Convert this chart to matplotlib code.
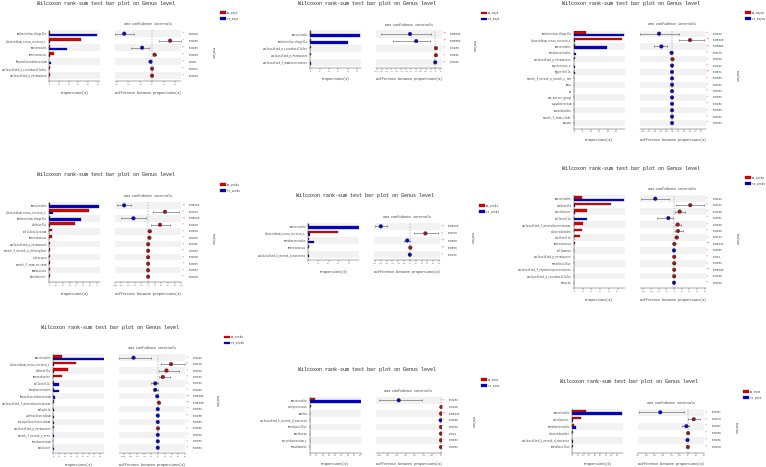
import matplotlib.pyplot as plt
import numpy as np
from matplotlib.transforms import blended_transform_factory

plt.rcParams['font.family'] = ['Liberation Mono', 'DejaVu Sans Mono']

W, H = 766, 467
RED, BLUE = '#e00000', '#0000d0'
DOT_RED, DOT_BLUE = '#a01515', '#0a0ab8'

# ---- data: one block per panel ----
group1 = 'Day3'
labels1 = ['Escherichia-Shigella', 'Clostridium_sensu_stricto_1', 'Bacteroides', 'Enterococcus',
           'Phascolarctobacterium', 'unclassified_o_Lactobacillales', 'unclassified_p_Firmicutes']
ck1 = [0.5, 33.0, 0.3, 5.0, 0.2, 0.4, 0.4]
yh1 = [49.5, 0.8, 18.3, 0.4, 1.8, 0.05, 0.05]
diff1 = [-47.0, 31.0, -16.6, 4.6, -2.3, 0.3, 0.3]
lo1 = [-62.0, 12.6, -35.0, 2.0, -3.4, 0.1, 0.1]
hi1 = [-30.0, 50.0, -5.0, 7.0, -1.2, 0.5, 0.5]
p1 = [0.0286, 0.0286, 0.0286, 0.0286, 0.028, 0.0221, 0.0186]

group2 = 'Day8'
labels2 = ['Bacteroides', 'Escherichia-Shigella', 'unclassified_o_Lactobacillales',
           'unclassified_p_Firmicutes', 'unclassified_f_Ruminococcaceae']
ck2 = [0.3, 0.3, 0.5, 0.5, 0.0]
yh2 = [26.5, 20.2, 0.0, 0.0, 0.2]
diff2 = [-26.0, -19.7, 0.5, 0.5, -0.2]
lo2 = [-55.7, -43.3, 0.2, 0.2, -0.4]
hi2 = [-4.7, -6.0, 0.8, 0.8, -0.05]
p2 = [0.00843, 0.00583, 0.0206, 0.0102, 0.0402]

group3 = 'Day15'
labels3 = ['Escherichia-Shigella', 'Clostridium_sensu_stricto_1', 'Bacteroides', 'Parabacteroides',
           'unclassified_p_Firmicutes', 'Coprococcus_2', 'Eggerthella', 'norank_f_norank_o_norank_c_TM7',
           'RB41', 'B1', 'NS9_marine_group', 'Aquabacterium', 'Nocardioides', 'norank_f_JG30_clade', 'SM1A02']
ck3 = [7.2, 28.3, 0.3, 0.1, 0.6, 0.2, 0.1, 0.05, 0.05, 0.05, 0.05, 0.05, 0.05, 0.05, 0.05]
yh3 = [29.7, 0.5, 19.8, 1.0, 0.1, 0.3, 0.4, 0.2, 0.2, 0.2, 0.2, 0.2, 0.2, 0.2, 0.2]
diff3 = [-22.5, 30.6, -18.5, -1.0, 0.5, -0.2, -0.3, -0.2, -0.2, -0.2, -0.2, -0.2, -0.2, -0.2, -0.2]
lo3 = [-55.0, 11.0, -31.0, -1.6, 0.2, -0.4, -0.6, -0.4, -0.4, -0.4, -0.4, -0.4, -0.4, -0.4, -0.4]
hi3 = [11.0, 53.8, -8.7, -0.4, 0.8, -0.05, -0.1, -0.05, -0.05, -0.05, -0.05, -0.05, -0.05, -0.05, -0.05]
p3 = [0.0286, 0.00496, 0.00403, 0.0276, 0.0286, 0.0412, 0.0071, 0.0303, 0.0402, 0.0303,
      0.0303, 0.0402, 0.0303, 0.0402, 0.0303]

group4 = 'Week2'
labels4 = ['Bacteroides', 'Clostridium_sensu_stricto_1', 'Escherichia-Shigella', 'Klebsiella',
           'Cellulosilyticum', 'Enterococcus', 'unclassified_p_Firmicutes', 'norank_f_norank_o_Chloroplast',
           'Alistipes', 'norank_f_JG30-KF-CM45', 'Romboutsia', 'Odoribacter']
ck4 = [0.5, 58.0, 1.5, 37.5, 3.4, 3.4, 0.6, 0.4, 0.3, 0.3, 0.3, 0.3]
yh4 = [73.0, 5.8, 46.0, 0.3, 0.2, 0.1, 0.0, 0.0, 0.0, 0.0, 0.0, 0.0]
diff4 = [-72.0, 51.0, -44.0, 36.0, 5.0, 4.0, 0.4, 0.3, 0.2, 0.2, 0.2, 0.2]
lo4 = [-92.0, 14.0, -82.0, 9.0, 2.0, 2.5, 0.1, 0.1, 0.05, 0.05, 0.05, 0.05]
hi4 = [-50.0, 94.0, -6.0, 67.0, 9.0, 6.0, 0.8, 0.6, 0.4, 0.4, 0.4, 0.4]
p4 = [0.00433, 0.0216, 0.00128, 0.0195, 0.0286, 0.0103, 0.0409, 0.0353, 0.0198, 0.0106, 0.0303, 0.0188]

group5 = 'Week4'
labels5 = ['Bacteroides', 'Clostridium_sensu_stricto_1', 'Parabacteroides', 'Enterococcus',
           'unclassified_k_norank_d_Bacteria']
ck5 = [0.3, 29.0, 0.4, 1.0, 0.05]
yh5 = [50.0, 1.6, 5.3, 0.1, 0.3]
diff5 = [-50.0, 26.5, -4.6, 0.6, -0.25]
lo5 = [-60.7, 7.5, -10.4, 0.2, -0.4]
hi5 = [-39.3, 48.5, -0.6, 1.0, -0.1]
p5 = [0.00433, 0.0433, 0.0086, 0.0086, 0.0362]

group6 = 'Week6'
labels6 = ['Bacteroides', 'Klebsiella', 'Citrobacter', 'Collinsella', 'unclassified_f_Enterobacteriaceae',
           'Clostridioides', 'Veillonella', 'Enterococcus', 'Sellimonas', 'unclassified_p_Firmicutes',
           'Paenibacillus', 'unclassified_f_Peptostreptococcaceae', 'unclassified_o_Lactobacillales', 'Blautia']
ck6 = [8.7, 43.0, 15.5, 0.5, 9.8, 9.4, 7.0, 1.0, 0.1, 0.5, 0.4, 0.3, 0.3, 0.1]
yh6 = [57.7, 1.2, 0.8, 15.5, 0.5, 0.3, 0.3, 0.2, 0.4, 0.2, 0.1, 0.05, 0.05, 0.3]
diff6 = [-49.0, 42.0, 14.5, -15.0, 9.4, 10.0, 6.8, 0.6, -0.3, 0.3, 0.3, 0.2, 0.2, -0.2]
lo6 = [-87.0, 5.0, 2.5, -44.0, 2.5, 2.5, 3.0, 0.2, -0.6, 0.1, 0.1, 0.1, 0.1, -0.4]
hi6 = [-14.0, 79.0, 29.0, -4.0, 19.0, 23.0, 10.0, 1.0, -0.1, 0.5, 0.5, 0.3, 0.3, -0.05]
p6 = [0.0143, 0.0122, 0.0286, 0.0381, 0.0286, 0.0286, 0.0143, 0.00433, 0.0303, 0.012,
      0.0303, 0.00866, 0.0286, 0.0286]

group7 = 'Week8'
labels7 = ['Bacteroides', 'Clostridium_sensu_stricto_1', 'Klebsiella', 'Enterobacter', 'Collinsella',
           'Parabacteroides', 'Phascolarctobacterium', 'unclassified_f_Enterobacteriaceae', 'Bilophila',
           'Lachnoclostridium', 'Erysipelatoclostridium', 'unclassified_p_Firmicutes',
           'norank_f_norank_o_RF39', 'Fusobacterium', 'Dialister']
ck7 = [15.3, 38.6, 25.0, 14.0, 0.5, 0.4, 0.2, 1.7, 0.1, 0.3, 0.3, 0.4, 0.1, 0.1, 0.1]
yh7 = [86.0, 0.5, 0.6, 0.3, 9.0, 9.0, 3.0, 0.3, 0.5, 0.5, 0.4, 0.1, 0.4, 0.3, 0.4]
diff7 = [-71.0, 38.5, 25.0, 14.4, -7.7, -7.7, -1.9, 2.9, -0.3, -0.3, -0.2, 0.3, -0.3, -0.2, -0.3]
lo7 = [-112.0, 8.7, 3.8, 1.9, -21.0, -15.0, -3.0, 1.0, -0.6, -0.6, -0.4, 0.1, -0.6, -0.4, -0.6]
hi7 = [-21.0, 79.0, 63.0, 36.0, -1.0, 1.0, -1.0, 5.0, -0.1, -0.1, -0.05, 0.5, -0.1, -0.05, -0.1]
p7 = [0.0242, 0.0216, 0.0286, 0.0433, 0.0381, 0.0152, 0.00866, 0.00866, 0.0303, 0.0455,
      0.0303, 0.0303, 0.0286, 0.0303, 0.0303]

group8 = 'Mon2'
labels8 = ['Bacteroides', 'Streptococcus', 'Rothia', 'unclassified_k_norank_d_Bacteria',
           'Brevibacillus', 'Roseburia', 'Corynebacterium_1', 'Pseudomonas']
ck8 = [8.5, 1.1, 0.3, 0.05, 0.3, 0.2, 0.2, 0.2]
yh8 = [80.0, 0.2, 0.0, 0.3, 0.0, 0.0, 0.0, 0.0]
diff8 = [-71.5, 0.9, 0.3, -0.25, 0.3, 0.2, 0.2, 0.2]
lo8 = [-105.0, 0.3, 0.1, -0.5, 0.1, 0.05, 0.05, 0.05]
hi8 = [-32.5, 1.5, 0.5, -0.05, 0.5, 0.4, 0.4, 0.4]
p8 = [0.0283, 0.0229, 0.00433, 0.0108, 0.0286, 0.021, 0.0303, 0.0303]

group9 = 'Mon3'
labels9 = ['Bacteroides', 'Citrobacter', 'Parabacteroides', 'Clostridioides',
           'unclassified_k_norank_d_Bacteria', 'Brevibacillus']
ck9 = [12.0, 7.6, 1.5, 0.6, 0.05, 0.3]
yh9 = [44.4, 0.3, 3.2, 0.1, 0.3, 0.05]
diff9 = [-33.0, 7.3, -1.6, 0.5, -0.2, 0.2]
lo9 = [-59.0, 0.8, -7.0, 0.2, -0.4, 0.05]
hi9 = [-4.5, 15.0, 2.0, 0.8, -0.05, 0.4]
p9 = [0.0357, 0.0216, 0.0257, 0.0206, 0.0409, 0.0286]

# axis ranges (value scales)
scales = [
    ((0, 52), np.arange(0, 51, 10), (-63, 50), np.arange(-60, 41, 20)),
    ((0, 27), np.arange(0, 26, 5), (-61, 7), np.arange(-60, 6, 5)),
    ((0, 30), np.arange(0, 26, 5), (-56, 58), np.arange(-50, 51, 10)),
    ((0, 74), np.arange(0, 71, 10), (-100, 100), np.arange(-100, 101, 20)),
    ((0, 50), np.arange(0, 46, 10), (-62, 52), np.arange(-60, 51, 10)),
    ((0, 58), np.arange(0, 51, 10), (-90, 83), np.arange(-80, 81, 20)),
    ((0, 86), np.arange(0, 81, 10), (-114, 80), np.arange(-100, 81, 20)),
    ((0, 80), np.arange(0, 81, 10), (-111, 2), np.arange(-105, 1, 15)),
    ((0, 45), np.arange(0, 41, 5), (-60, 20), np.arange(-60, 21, 10)),
]

# layout in pixels: bar-axes left edge, first row centre, last row centre
layout = [
    (49.3, 33.7, 75.7), (310.3, 34.0, 62.3), (574.0, 33.7, 123.0),
    (49.3, 205.3, 276.7), (308.3, 226.3, 254.7), (574.0, 198.7, 282.7),
    (53.3, 357.7, 447.7), (310.0, 400.3, 447.0), (572.3, 412.3, 447.0),
]

fig = plt.figure(figsize=(W / 100, H / 100), dpi=100)


def fx(x):
    return x / W


def fy(y):
    return 1 - y / H


def style_axis(ax, xlim, ticks):
    ax.set_xlim(*xlim)
    ax.set_xticks(ticks)
    ax.set_xticklabels([f'{t:g}' for t in ticks], fontsize=1.5, color='#333333')
    ax.tick_params(axis='x', length=1.2, width=0.25, pad=0.8, colors='#333333', labelcolor='#333333')
    for s in ['top', 'right']:
        ax.spines[s].set_visible(False)
    ax.spines['bottom'].set_linewidth(0.3)
    ax.spines['bottom'].set_color('#333333')


def draw_panel(lay, sc, group, labels, ck, yh, diff, lo, hi, pv):
    bx0, y0, y1 = lay
    bar_lim, bar_ticks, ci_lim, ci_ticks = sc
    n = len(labels)
    step = (y1 - y0) / (n - 1)
    top = y0 - step / 2
    bot = y1 + 5.5
    ymax = -0.5 + (bot - top) / step
    ys = np.arange(n)

    # bar panel
    axb = fig.add_axes([fx(bx0), fy(bot), (50.5) / W, (bot - top) / H])
    for i in range(0, n, 2):
        axb.axhspan(i - 0.5, i + 0.5, color='#f2f2f2', lw=0, zorder=0)
    h = 0.36
    axb.barh(ys - h / 2, ck, height=h, color=RED, edgecolor='#222222', linewidth=0.2, zorder=2)
    axb.barh(ys + h / 2, yh, height=h, color=BLUE, edgecolor='#222222', linewidth=0.2, zorder=2)
    axb.set_ylim(ymax, -0.5)
    axb.set_yticks(ys)
    axb.set_yticklabels(labels, fontsize=1.8, color='#333333')
    axb.tick_params(axis='y', length=0.8, width=0.25, pad=1)
    style_axis(axb, bar_lim, bar_ticks)
    axb.spines['left'].set_linewidth(0.3)
    axb.spines['left'].set_color('#333333')

    # confidence interval panel
    cx0 = bx0 + 65.5
    axc = fig.add_axes([fx(cx0), fy(bot), 66.5 / W, (bot - top) / H])
    for i in range(0, n, 2):
        axc.axhspan(i - 0.5, i + 0.5, color='#f2f2f2', lw=0, zorder=0)
    axc.axvline(0, color='#777777', ls=(0, (3, 3)), lw=0.35, zorder=1)
    d = np.array(diff)
    err = [d - np.array(lo), np.array(hi) - d]
    axc.errorbar(d, ys, xerr=err, fmt='none', ecolor='#555555', elinewidth=0.4,
                 capsize=0.9, capthick=0.4, zorder=2)
    cols = [DOT_RED if v > 0 else DOT_BLUE for v in diff]
    axc.scatter(d, ys, s=7, c=cols, edgecolors='#111111', linewidths=0.2, zorder=3)
    axc.set_ylim(ymax, -0.5)
    axc.set_yticks([])
    axc.spines['left'].set_visible(False)
    style_axis(axc, ci_lim, ci_ticks)

    # p-values and stars
    tr = blended_transform_factory(fig.transFigure, axc.transData)
    for i, p in enumerate(pv):
        star = '**' if p < 0.01 else '*'
        fig.text(fx(bx0 + 132), i, star, transform=tr, fontsize=2.6, color='#ff2a2a',
                 ha='left', va='center')
        fig.text(fx(bx0 + 139.3), i, f'{p:g}', transform=tr, fontsize=1.9, color='#333333',
                 ha='left', va='center')

    # texts
    fig.text(fx(bx0 + 57), fy(y0 - 30.5), 'Wilcoxon rank-sum test bar plot on Genus level',
             fontsize=3.6, ha='center', va='center', color='#222222')
    fig.text(fx(cx0 + 33), fy(y0 - 9.5), '95% confidence intervals',
             fontsize=2.4, ha='center', va='center', color='#333333')
    fig.text(fx(bx0 + 25), fy(bot + 11.5), 'Proportions(%)',
             fontsize=2.4, ha='center', va='center', color='#333333')
    fig.text(fx(cx0 + 33), fy(bot + 11.5), 'Difference between proportions(%)',
             fontsize=2.4, ha='center', va='center', color='#333333')
    fig.text(fx(bx0 + 163), fy((y0 + y1) / 2 - 2), 'Pvalue', rotation=270,
             fontsize=2.4, ha='center', va='center', color='#333333')

    # legend
    for k, (name, col) in enumerate([('CK_' + group, RED), ('YH_' + group, BLUE)]):
        ly = y0 - 21 + 6 * k
        fig.patches.append(plt.Rectangle((fx(bx0 + 170.5), fy(ly + 1.2)), 6 / W, 2.4 / H,
                                         transform=fig.transFigure, facecolor=col,
                                         edgecolor='#222222', linewidth=0.2))
        fig.text(fx(bx0 + 177.5), fy(ly), name, fontsize=1.9, ha='left', va='center',
                 color='#333333')


panels = [
    (group1, labels1, ck1, yh1, diff1, lo1, hi1, p1),
    (group2, labels2, ck2, yh2, diff2, lo2, hi2, p2),
    (group3, labels3, ck3, yh3, diff3, lo3, hi3, p3),
    (group4, labels4, ck4, yh4, diff4, lo4, hi4, p4),
    (group5, labels5, ck5, yh5, diff5, lo5, hi5, p5),
    (group6, labels6, ck6, yh6, diff6, lo6, hi6, p6),
    (group7, labels7, ck7, yh7, diff7, lo7, hi7, p7),
    (group8, labels8, ck8, yh8, diff8, lo8, hi8, p8),
    (group9, labels9, ck9, yh9, diff9, lo9, hi9, p9),
]

for lay, sc, pdata in zip(layout, scales, panels):
    draw_panel(lay, sc, *pdata)

fig.savefig('out.png', dpi=100, facecolor='white')
